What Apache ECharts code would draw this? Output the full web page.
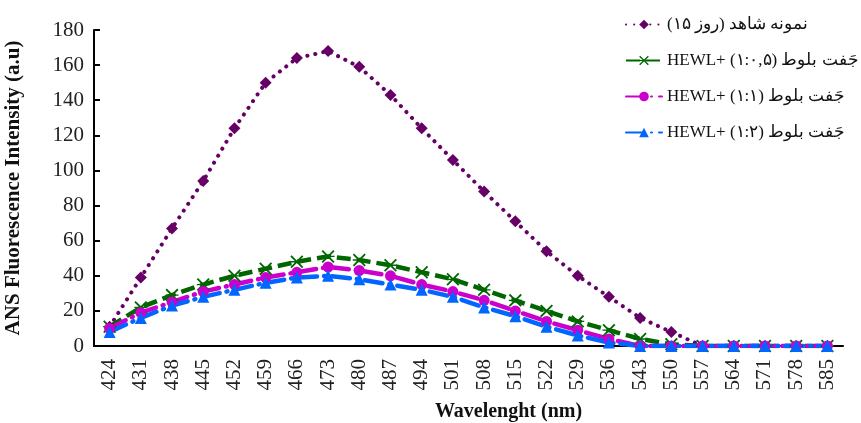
<!DOCTYPE html>
<html>
<head>
<meta charset="utf-8">
<script src="https://cdn.jsdelivr.net/npm/echarts@6/dist/echarts.min.js"></script>
<style>
html,body{margin:0;padding:0;background:#fff;}
#chart{width:861px;height:423px;}
</style>
</head>
<body>
<div id="chart"></div>
<script>
var categories = ['424','431','438','445','452','459','466','473','480','487','494','501','508','515','522','529','536','543','550','557','564','571','578','585'];
var controlDay15 = [11,39,67,94,124,150,164,168,159,143,124,106,88,71,54,40,28,16,8,0,0,0,0,0];
var ratio1to05 = [11,22,29,35,40,44,48,51,49,46,42,38,32,26,20,14,9,4,1,0,0,0,0,0];
var ratio1to1 = [10,19,25,31,35,39,42,45,43,40,35,31,26,20,14,9,4,0,0,0,0,0,0,0];
var ratio1to2 = [8,16,23,28,32,36,39,40,38,35,32,28,22,17,11,6,2,0,0,0,0,0,0,0];
var seriesNames = [
  '\u2067نمونه شاهد (روز ۱۵)\u2069',
  '\u2067جَفت بلوط (۱:۰,۵) +HEWL\u2069',
  '\u2067جَفت بلوط (۱:۱) +HEWL\u2069',
  '\u2067جَفت بلوط (۱:۲) +HEWL\u2069'
];

var serif = '"Liberation Serif","Times New Roman",serif';
var xPath = 'path://M0,2 L2,0 L10,8 L18,0 L20,2 L12,10 L20,18 L18,20 L10,12 L2,20 L0,18 L8,10 Z M0,9 L20,9 L20,11 L0,11 Z';

var chart = echarts.init(document.getElementById('chart'));
chart.setOption({
  animation: false,
  backgroundColor: '#fff',
  grid: {left: 94, right: 18, top: 30, bottom: 77, outerBoundsMode: 'none', containLabel: false},
  legend: {
    orient: 'vertical',
    left: 620,
    top: 11,
    itemWidth: 36,
    itemHeight: 12,
    itemGap: 19,
    textStyle: {fontFamily: serif, fontSize: 17, color: '#111'},
    data: seriesNames
  },
  xAxis: {
    type: 'category',
    data: categories,
    boundaryGap: true,
    name: 'Wavelenght (nm)',
    nameLocation: 'middle',
    nameGap: 56,
    nameTextStyle: {fontFamily: serif, fontSize: 20, fontWeight: 'bold', color: '#111', padding: [0,0,0,80]},
    axisLine: {lineStyle: {color: '#000', width: 2}},
    axisTick: {inside: true, length: 6, lineStyle: {color: '#000', width: 2}},
    axisLabel: {rotate: 90, fontFamily: serif, fontSize: 21, color: '#222', margin: 13},
    splitLine: {show: false}
  },
  yAxis: {
    type: 'value',
    min: 0, max: 180, interval: 20,
    name: 'ANS Fluorescence Intensity (a.u)',
    nameLocation: 'middle',
    nameGap: 70,
    nameTextStyle: {fontFamily: serif, fontSize: 21, fontWeight: 'bold', color: '#111'},
    axisLine: {show: true, lineStyle: {color: '#000', width: 2}},
    axisTick: {show: true, inside: true, length: 6, lineStyle: {color: '#000', width: 2}},
    axisLabel: {fontFamily: serif, fontSize: 21, color: '#222', margin: 10},
    splitLine: {show: false}
  },
  series: [
    {
      name: seriesNames[0], type: 'line', data: controlDay15,
      symbol: 'diamond', symbolSize: 12,
      itemStyle: {color: '#660066'},
      lineStyle: {color: '#660066', width: 4, type: [0.1, 8], cap: 'round'}
    },
    {
      name: seriesNames[1], type: 'line', data: ratio1to05,
      symbol: xPath, symbolSize: 13,
      itemStyle: {color: '#006600'},
      lineStyle: {color: '#006600', width: 4.5, type: [14, 6]}
    },
    {
      name: seriesNames[2], type: 'line', data: ratio1to1,
      symbol: 'circle', symbolSize: 11,
      itemStyle: {color: '#CC00CC'},
      lineStyle: {color: '#CC00CC', width: 4.5, type: [18, 7, 1, 7], cap: 'round'}
    },
    {
      name: seriesNames[3], type: 'line', data: ratio1to2,
      symbol: 'triangle', symbolSize: 12,
      itemStyle: {color: '#0066FF'},
      lineStyle: {color: '#0066FF', width: 4.5, type: [18, 7, 1, 7], cap: 'round'}
    }
  ]
});
</script>
</body>
</html>
